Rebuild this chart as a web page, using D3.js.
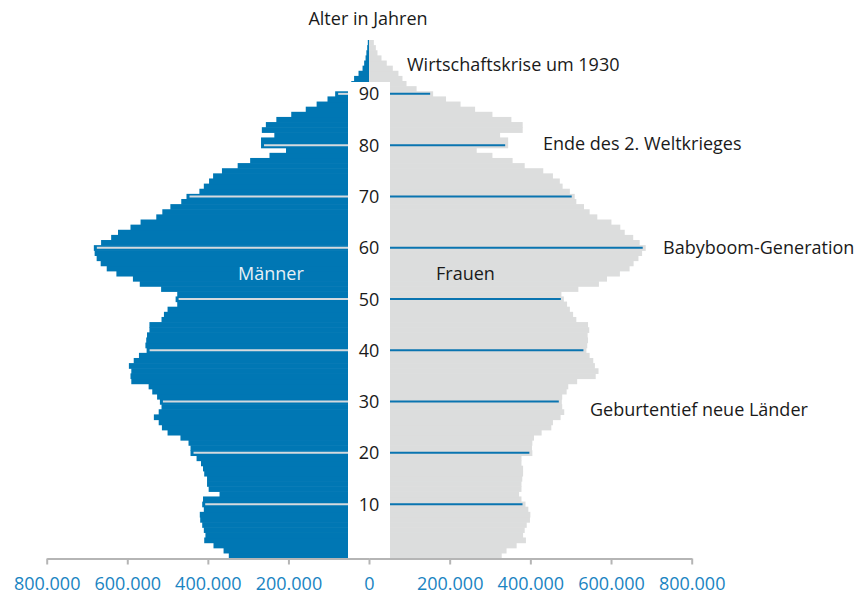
<html><head><meta charset="utf-8">
    <style>
        body {
            margin: 0;
            background: #ffffff;
            font-family: "Open Sans", sans-serif;
        }
        svg text {
            font-family: "Open Sans", sans-serif;
        }
    </style>
</head>

<body>
    <svg id="Pyramid"></svg>
</body>
 <script type="text/javascript" src="https://d3js.org/d3.v7.min.js"></script>
 <script type="text/javascript">
     // Bevoelkerung nach Alter (0 bis 100 Jahre)
     let ages = d3.range(0, 101);

     let maenner = [
        348000, 361000, 386000, 409000, 406000, 410000, 414000, 419000, 420000, 410000,
        414000, 412000, 371000, 398000, 402000, 402000, 409000, 412000, 417000, 428000,
        443000, 443000, 448000, 468000, 500000, 514000, 522000, 534000, 522000, 515000,
        519000, 526000, 538000, 547000, 590000, 592000, 590000, 596000, 584000, 571000,
        552000, 555000, 553000, 551000, 545000, 545000, 515000, 509000, 500000, 476000,
        480000, 476000, 516000, 569000, 586000, 627000, 651000, 666000, 676000, 681000,
        683000, 665000, 640000, 623000, 592000, 567000, 528000, 513000, 493000, 466000,
        453000, 421000, 410000, 397000, 387000, 365000, 326000, 295000, 247000, 206000,
        268000, 268000, 235000, 266000, 256000, 230000, 193000, 157000, 130000, 103000,
        84000, 50000, 44000, 37000, 26000, 16000, 12000, 8500, 6500, 4500,
        3000
     ];

     let frauen = [
        329000, 341000, 366000, 389000, 382000, 386000, 391000, 399000, 400000, 395000,
        388000, 378000, 372000, 378000, 378000, 380000, 382000, 382000, 378000, 378000,
        405000, 404000, 405000, 409000, 428000, 452000, 456000, 475000, 484000, 479000,
        478000, 479000, 490000, 494000, 516000, 562000, 569000, 560000, 556000, 547000,
        539000, 541000, 543000, 542000, 546000, 543000, 514000, 506000, 498000, 491000,
        483000, 477000, 519000, 570000, 590000, 622000, 646000, 656000, 668000, 677000,
        686000, 671000, 655000, 634000, 623000, 601000, 566000, 547000, 533000, 514000,
        510000, 498000, 480000, 473000, 456000, 432000, 386000, 356000, 306000, 267000,
        345000, 345000, 325000, 381000, 381000, 353000, 306000, 263000, 227000, 191000,
        159000, 118000, 93000, 83000, 73000, 59000, 44000, 31000, 21000, 17000,
        12000
     ];

     let ageTicks = [10, 20, 30, 40, 50, 60, 70, 80, 90];
     let xTicks = [0, 200000, 400000, 600000, 800000];

     let notes = [
        {text: "Wirtschaftskrise um 1930", x: 407, y: 71},
        {text: "Ende des 2. Weltkrieges", x: 543, y: 150},
        {text: "Babyboom-Generation", x: 663, y: 254},
        {text: "Geburtentief neue Länder", x: 590, y: 416}
     ];

     const BLUE = "#0077b4";
     const GREY = "#dcdddd";

     function getConfig(){
        let width = 856;
        let height = 596;
        let center = 369;
        let bandLeft = 348;
        let bandRight = 390;
        let container = d3.select("#Pyramid")
            .attr("width", width)
            .attr("height", height);
        return {width, height, center, bandLeft, bandRight, container};
     }

     function getScales(config){
        let xLeft = d3.scaleLinear()
            .domain([0, 800000])
            .range([config.center, 46.7]);
        let xRight = d3.scaleLinear()
            .domain([0, 800000])
            .range([config.center, 691.7]);
        let yScale = d3.scaleBand()
            .domain(ages)
            .range([558, 40])
            .padding(0);
        return {xLeft, xRight, yScale};
     }

     function drawBars(config, scales){
        let {container, center} = config;
        let {xLeft, xRight, yScale} = scales;
        // bars overlap a little so no seams show between the years
        let h = yScale.bandwidth() + 0.6;

        container.append("g").selectAll("rect")
            .data(ages)
            .enter()
            .append("rect")
            .attr("x", a => xLeft(maenner[a]))
            .attr("y", a => yScale(a))
            .attr("width", a => center - xLeft(maenner[a]))
            .attr("height", a => a == 0 ? yScale.bandwidth() : h)
            .attr("fill", BLUE);

        container.append("g").selectAll("rect")
            .data(ages)
            .enter()
            .append("rect")
            .attr("x", center)
            .attr("y", a => yScale(a))
            .attr("width", a => xRight(frauen[a]) - center)
            .attr("height", a => a == 0 ? yScale.bandwidth() : h)
            .attr("fill", GREY);

        // white strip for the age labels
        container.append("rect")
            .attr("x", config.bandLeft)
            .attr("y", 82)
            .attr("width", config.bandRight - config.bandLeft)
            .attr("height", 558 - 82)
            .attr("fill", "#ffffff");
     }

     function drawAgeLines(config, scales){
        let {container, center, bandLeft, bandRight} = config;
        let {xLeft, xRight, yScale} = scales;
        let mid = a => yScale(a) + yScale.bandwidth() / 2;

        let g = container.append("g");
        g.selectAll(".lineM")
            .data(ageTicks)
            .enter()
            .append("line")
            .attr("x1", a => xLeft(maenner[a]) + 3)
            .attr("x2", bandLeft)
            .attr("y1", mid)
            .attr("y2", mid)
            .attr("stroke", "#d5dade")
            .attr("stroke-width", 2);

        g.selectAll(".lineF")
            .data(ageTicks)
            .enter()
            .append("line")
            .attr("x1", bandRight)
            .attr("x2", a => xRight(frauen[a]) - 3)
            .attr("y1", mid)
            .attr("y2", mid)
            .attr("stroke", "#0a74b0")
            .attr("stroke-width", 2);

        g.selectAll("text")
            .data(ageTicks)
            .enter()
            .append("text")
            .attr("x", center)
            .attr("y", a => mid(a) + 6.5)
            .attr("text-anchor", "middle")
            .attr("font-size", 18)
            .attr("fill", "#1a1a1a")
            .text(a => a);
     }

     function drawAxes(config, scales){
        let {container} = config;
        let {xLeft, xRight} = scales;
        let de = d3.formatLocale({decimal: ",", thousands: ".", grouping: [3], currency: ["", "€"]});
        let fmt = de.format(",");

        let axisL = d3.axisBottom(xLeft).tickValues(xTicks).tickFormat(fmt)
            .tickSizeOuter(0).tickSizeInner(6).tickPadding(13);
        let axisR = d3.axisBottom(xRight).tickValues(xTicks.slice(1)).tickFormat(fmt)
            .tickSizeOuter(0).tickSizeInner(6).tickPadding(13);

        [axisL, axisR].forEach(axis => {
            let g = container.append("g")
                .attr("transform", "translate(0,558.5)")
                .call(axis);
            g.select(".domain").attr("stroke", "#b5b5b5").attr("stroke-width", 2);
            g.selectAll(".tick line").attr("stroke", "#b5b5b5").attr("stroke-width", 2);
            g.selectAll(".tick text")
                .attr("font-size", 18)
                .attr("font-family", "Open Sans, sans-serif")
                .attr("fill", "#1a84c2");
        });
     }

     function drawLabels(config){
        let {container} = config;
        container.append("text")
            .attr("x", 368)
            .attr("y", 25)
            .attr("text-anchor", "middle")
            .attr("font-size", 18)
            .attr("fill", "#1a1a1a")
            .text("Alter in Jahren");

        container.append("text")
            .attr("x", 238)
            .attr("y", 280)
            .attr("font-size", 18)
            .attr("fill", "#e8f0f6")
            .text("Männer");

        container.append("text")
            .attr("x", 436)
            .attr("y", 280)
            .attr("font-size", 18)
            .attr("fill", "#1a1a1a")
            .text("Frauen");

        container.append("g").selectAll("text")
            .data(notes)
            .enter()
            .append("text")
            .attr("x", d => d.x)
            .attr("y", d => d.y)
            .attr("font-size", 18)
            .attr("fill", "#1a1a1a")
            .text(d => d.text);
     }

     function showData(){
        let config = getConfig();
        let scales = getScales(config);
        drawBars(config, scales);
        drawAgeLines(config, scales);
        drawAxes(config, scales);
        drawLabels(config);
     }

     showData();
 </script>
</html>
